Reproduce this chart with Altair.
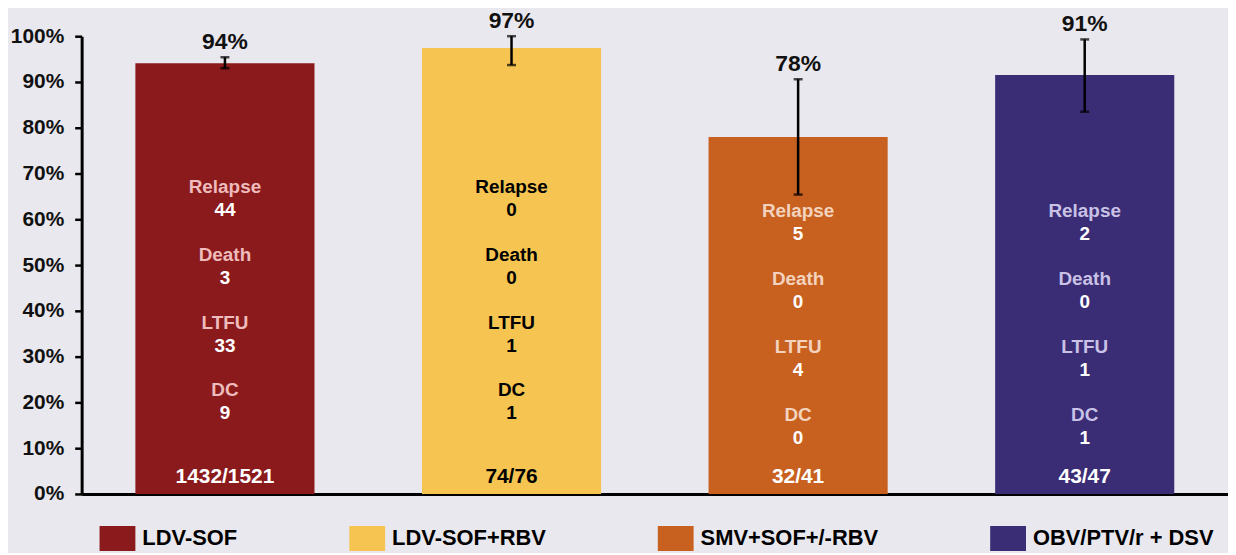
import altair as alt
import pandas as pd

# ---- data ----
regimens = ["LDV-SOF", "LDV-SOF+RBV", "SMV+SOF+/-RBV", "OBV/PTV/r + DSV"]
svr_pct = [94.1, 97.4, 78.0, 91.5]
ci_low = [93.0, 93.7, 65.4, 83.5]
ci_high = [95.4, 100.0, 90.6, 99.3]
svr_labels = ["94%", "97%", "78%", "91%"]
fractions = ["1432/1521", "74/76", "32/41", "43/47"]

reasons = ["Relapse", "Death", "LTFU", "DC"]
relapse = [44, 0, 5, 2]
death = [3, 0, 0, 0]
ltfu = [33, 1, 4, 1]
dc = [9, 1, 0, 1]

bar_colors = ["#8B1A1D", "#F5C451", "#C86020", "#3A2C75"]
reason_colors = ["#EEBCBC", "#000000", "#F3D3BE", "#C9C2E6"]
count_colors = ["#FFFFFF", "#000000", "#FFFFFF", "#FFFFFF"]

# ---- layout (not data) ----
FONT = "Liberation Sans"
BG = "#E9E8EE"
first_reason_y = [67.0, 67.0, 61.7, 61.7]
reason_step = 14.8
fraction_y = 3.7

bars = pd.DataFrame({
    "regimen": regimens, "svr": svr_pct, "lo": ci_low, "hi": ci_high,
    "label": svr_labels, "frac": fractions, "tcol": count_colors,
})

counts = [relapse, death, ltfu, dc]
rows = []
for i, reg in enumerate(regimens):
    for j, r in enumerate(reasons):
        rows.append({
            "regimen": reg, "reason": r, "count": str(counts[j][i]),
            "y": first_reason_y[i] - j * reason_step,
            "rcol": reason_colors[i], "ccol": count_colors[i],
        })
inner = pd.DataFrame(rows)

xenc = alt.X("regimen:N", sort=regimens,
             scale=alt.Scale(paddingInner=0.375, paddingOuter=0.1875),
             axis=alt.Axis(title=None, labels=False, ticks=False,
                           domainColor="black", domainWidth=3))

base = alt.Chart(bars)

bar_layer = base.mark_bar().encode(
    x=xenc,
    y=alt.Y("svr:Q", scale=alt.Scale(domain=[0, 100], nice=False),
            axis=alt.Axis(title=None, values=list(range(0, 101, 10)),
                          labelExpr="datum.value + '%'", grid=False,
                          domainColor="black", domainWidth=3,
                          tickColor="black", tickWidth=2.5, tickSize=7,
                          labelPadding=11, labelFont=FONT, labelFontSize=21,
                          labelFontWeight="bold", labelColor="#111111")),
    color=alt.Color("regimen:N", sort=regimens,
                    scale=alt.Scale(domain=regimens, range=bar_colors),
                    legend=alt.Legend(
                        title=None, orient="none", legendX=18, legendY=486.5,
                        direction="horizontal", columns=4, columnPadding=112,
                        symbolType="M-1,-0.694L1,-0.694L1,0.694L-1,0.694Z",
                        symbolSize=1296, symbolStrokeWidth=0, symbolOpacity=1,
                        labelOffset=7, labelFont=FONT, labelFontSize=22,
                        labelFontWeight="bold", labelColor="#000000",
                        labelLimit=400, padding=0)),
)

err_rule = base.mark_rule(color="black", strokeWidth=2.5).encode(
    x=alt.X("regimen:N", sort=regimens), y="lo:Q", y2="hi:Q")
cap_lo = base.mark_tick(color="black", size=9, thickness=2.5).encode(
    x=alt.X("regimen:N", sort=regimens), y="lo:Q")
cap_hi = base.mark_tick(color="black", size=9, thickness=2.5).encode(
    x=alt.X("regimen:N", sort=regimens), y="hi:Q")

top_text = base.mark_text(font=FONT, fontSize=23, fontWeight="bold",
                          color="#111111", baseline="alphabetic", dy=-8).encode(
    x=alt.X("regimen:N", sort=regimens), y="hi:Q", text="label:N")

frac_text = base.mark_text(font=FONT, fontSize=21, fontWeight="bold",
                           baseline="middle").encode(
    x=alt.X("regimen:N", sort=regimens), y=alt.datum(fraction_y),
    text="frac:N", color=alt.Color("tcol:N", scale=None))

ichart = alt.Chart(inner)
reason_text = ichart.mark_text(font=FONT, fontSize=19, fontWeight="bold",
                               baseline="middle").encode(
    x=alt.X("regimen:N", sort=regimens), y="y:Q", text="reason:N",
    color=alt.Color("rcol:N", scale=None))
count_text = ichart.mark_text(font=FONT, fontSize=19, fontWeight="bold",
                              baseline="middle", dy=23).encode(
    x=alt.X("regimen:N", sort=regimens), y="y:Q", text="count:N",
    color=alt.Color("ccol:N", scale=None))

chart = alt.layer(bar_layer, err_rule, cap_lo, cap_hi, top_text, frac_text,
                  reason_text, count_text).resolve_scale(
    color="independent"
).properties(
    width=1152, height=460, background=BG,
    autosize=alt.AutoSizeParams(type="none"),
    padding={"left": 74, "top": 27, "right": 0, "bottom": 58},
).configure_view(stroke="transparent")

chart.save("out.html", embed_options={"renderer": "svg", "actions": False})
